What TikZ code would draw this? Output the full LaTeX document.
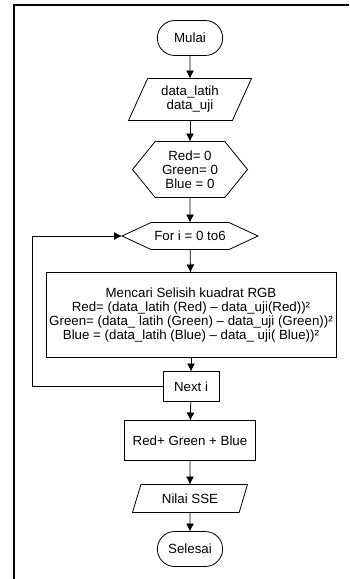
\documentclass[tikz,border=0pt]{standalone}
\usepackage{fontspec}
\setmainfont{Liberation Sans}
\usetikzlibrary{shapes.geometric,shapes.misc,shapes.symbols,positioning,arrows.meta}

\begin{document}
\begin{tikzpicture}[x=1pt,y=1pt,line width=0.8pt,
    every node/.style={font=\fontsize{13.3}{14}\selectfont, align=center, outer sep=0pt},
    term/.style={draw, rounded rectangle, minimum width=72pt, minimum height=35pt},
    io/.style={draw, trapezium, trapezium left angle=60, trapezium right angle=120, trapezium stretches body},
    prep/.style={draw, signal, signal to=east and west},
    proc/.style={draw, rectangle},
    >={Latex[length=8pt,width=8pt]}]
    \useasboundingbox (0,0) rectangle (349,-579);
    \draw[line width=1.6pt] (14,-579) -- (14,-5) -- (349,-5);

    \node[term] (mulai) at (190,-38) {Mulai};
    \node[io, below=23pt of mulai, minimum width=123pt, minimum height=42pt] (data) {data\_latih\\data\_uji};
    \node[prep, below=21pt of data, minimum width=115pt, minimum height=56pt, signal pointer angle=102] (init) {Red= 0\\Green= 0\\Blue = 0};
    \node[prep, below=25pt of init, minimum width=133pt, minimum height=27pt, signal pointer angle=50] (for) {For i = 0 to6};
    \node[proc, below=23pt of for, minimum width=286pt, minimum height=85pt, xshift=1pt] (hitung) {Mencari Selisih kuadrat RGB\\Red= (data\_latih (Red) – data\_uji(Red))²\\Green= (data\_ latih (Green) – data\_uji (Green))²\\Blue = (data\_latih (Blue) – data\_ uji( Blue))²};
    \node[proc, below=14pt of hitung, minimum width=56pt, minimum height=30pt] (next) {Next i};
    \node[proc, below=19pt of next, minimum width=131pt, minimum height=40pt, xshift=-1pt] (jumlah) {Red+ Green + Blue};
    \node[io, below=24pt of jumlah, minimum width=115pt, minimum height=28pt, trapezium left angle=63, trapezium right angle=117] (sse) {Nilai SSE};
    \node[term, below=19pt of sse] (selesai) {Selesai};

    \draw[->] (mulai) -- (data);
    \draw[->] (data) -- (init);
    \draw[->] (init) -- (for);
    \draw[->] (for) -- (hitung);
    \draw[->] (hitung) -- (next);
    \draw[->] (next) -- (jumlah);
    \draw[->] (jumlah) -- (sse);
    \draw[->] (sse) -- (selesai);

    \coordinate[left=90pt of for.west] (balik);
    \draw[->] (next.west) -| (balik) -- (for.west);
\end{tikzpicture}
\end{document}
